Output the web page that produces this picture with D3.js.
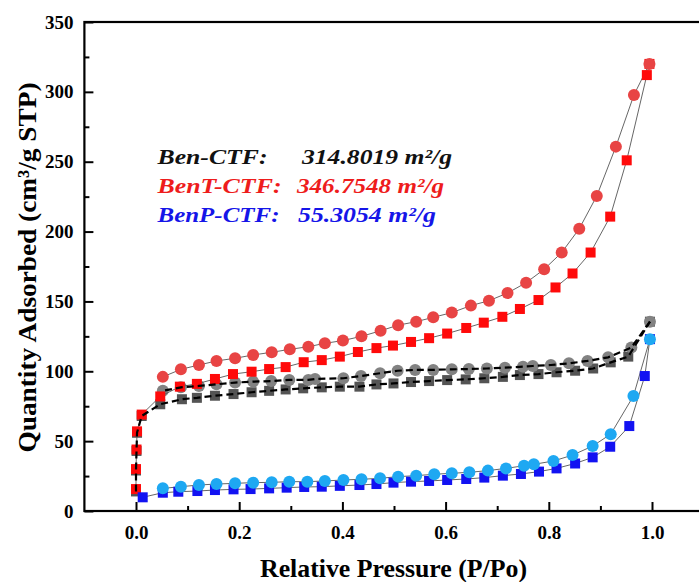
<!DOCTYPE html>
<html>
<head>
<meta charset="utf-8">
<script src="https://cdn.jsdelivr.net/npm/d3@7"></script>
<style>
body { margin: 0; background: #fff; }
svg { display: block; }
text { font-family: "Liberation Serif", "Times New Roman", serif; font-weight: bold; }
</style>
</head>
<body>
<div id="chart"></div>
<script>
// Ben-CTF (gray, dashed)
const benAdsP = [0.0,0.0,0.001,0.002,0.011,0.047,0.089,0.118,0.153,0.189,0.224,0.258,0.29,0.324,0.36,0.395,0.433,0.466,0.499,0.533,0.568,0.603,0.639,0.675,0.711,0.744,0.78,0.815,0.851,0.886,0.92,0.954,0.996]
const benAdsQ = [14,29,43,56,68,76.4,80,81,82.5,83.7,85,86,87,87.8,88.5,89,89,90.6,91.3,92.3,93,93.7,94.2,95,96,97.3,98,99.3,100.4,102,106.4,110.5,135.5]
const benDesP = [0.996,0.96,0.915,0.875,0.839,0.804,0.769,0.75,0.715,0.68,0.645,0.612,0.576,0.541,0.507,0.473,0.436,0.402,0.347,0.334,0.297,0.262,0.227,0.192,0.156,0.122,0.087,0.052]
const benDesQ = [135.5,117,110,107.4,105.7,104.5,103.8,103.3,102.6,102,101.6,101.4,101,101,100.4,98.6,96.6,95,94.5,93.8,93.8,93,92.6,91.9,90.7,89.5,88.5,86]

// BenT-CTF (red)
const benTAdsP = [0.0,0.0,0.001,0.002,0.011,0.047,0.085,0.118,0.153,0.188,0.224,0.258,0.29,0.325,0.36,0.395,0.43,0.466,0.498,0.533,0.568,0.603,0.64,0.674,0.71,0.744,0.78,0.813,0.846,0.881,0.919,0.951,0.99,0.995]
const benTAdsQ = [15.7,30,44,57,69,82,89,91,94.5,98,99.7,101.6,103,106.5,108,110.5,113.8,116.6,118.4,121,123.7,127,131,134.8,139,144.6,151,160,170,185,210.7,251,312,320]
const benTDesP = [0.995,0.965,0.93,0.893,0.859,0.825,0.791,0.756,0.72,0.684,0.649,0.612,0.576,0.543,0.508,0.474,0.437,0.401,0.366,0.334,0.298,0.263,0.227,0.192,0.156,0.122,0.087,0.052]
const benTDesQ = [320,297.8,260.8,225.5,202,185,173,163.4,156,150.5,147,142,138.6,135.5,133,129,125,122,120,117.6,115.7,113.6,111.7,109.3,107.4,104.5,101.4,96]

// BenP-CTF (blue)
const benPAdsP = [0.013,0.052,0.082,0.119,0.153,0.189,0.222,0.258,0.292,0.326,0.36,0.395,0.433,0.466,0.499,0.533,0.568,0.603,0.64,0.675,0.711,0.746,0.781,0.815,0.851,0.885,0.919,0.956,0.986,0.996]
const benPAdsQ = [9.8,13.1,13.8,14.3,15,15.5,15.7,16.2,16.7,17.2,17.4,18,18.6,19.3,20.3,21,21.5,22.2,22.9,23.9,25.3,26.5,28.2,30.5,34,38.4,46,60.8,96.6,123]
const benPDesP = [0.996,0.964,0.92,0.885,0.846,0.809,0.771,0.752,0.717,0.682,0.646,0.612,0.578,0.543,0.508,0.473,0.437,0.402,0.366,0.332,0.297,0.263,0.227,0.192,0.156,0.122,0.087,0.052]
const benPDesQ = [123,82.3,55,46.5,40,35.8,33.4,32.4,30.5,28.9,27.7,27,26.3,25.3,24.6,23.4,22.7,22.2,21.5,21,21,20.5,20.3,19.8,19.3,18.6,17.4,16.2]

const xTicks = [0,0.2,0.4,0.6,0.8,1.0]
const yTicks = [0,50,100,150,200,250,300,350]

const labelNames = ["Ben-CTF:", "BenT-CTF:", "BenP-CTF:"]
const labelValues = ["314.8019 m²/g", "346.7548 m²/g", "55.3054 m²/g"]
const labelColors = ["#111", "#ee1c1c", "#1515e8"]

const width = 699
const height = 582
const margin = {top:22, left:84.4, bottom:71}
const plotW = 619.2
const plotH = height - margin.top - margin.bottom

const svg = d3.select("div#chart").append("svg").attr("width",width).attr("height",height)
const g = svg.append("g").attr("transform", `translate(${margin.left}, ${margin.top})`)

const x = d3.scaleLinear().domain([-0.1,1.1]).range([0,plotW])
const y = d3.scaleLinear().domain([0,350]).range([plotH,0])

const zip = (p,q) => p.map((d,i) => ({p:d, q:q[i]}))
const line = d3.line().x(d => x(d.p)).y(d => y(d.q))

function drawLine(data, style){
    g.append("path").datum(data)
        .attr("d", line)
        .attr("fill","none")
        .attr("stroke", style.stroke)
        .attr("stroke-width", style.width)
        .attr("stroke-dasharray", style.dash || null)
}
function drawSquares(data, color){
    g.append("g").selectAll("rect").data(data).enter().append("rect")
        .attr("x", d => x(d.p) - 5)
        .attr("y", d => y(d.q) - 5)
        .attr("width",10).attr("height",10)
        .attr("fill", color)
}
function drawCircles(data, color){
    g.append("g").selectAll("circle").data(data).enter().append("circle")
        .attr("cx", d => x(d.p))
        .attr("cy", d => y(d.q))
        .attr("r",6)
        .attr("fill", color)
}

const benAds = zip(benAdsP, benAdsQ), benDes = zip(benDesP, benDesQ)
const benTAds = zip(benTAdsP, benTAdsQ), benTDes = zip(benTDesP, benTDesQ)
const benPAds = zip(benPAdsP, benPAdsQ), benPDes = zip(benPDesP, benPDesQ)

const thin = {stroke:"#555", width:0.9}
const dashed = {stroke:"#000", width:2.2, dash:"7,4"}

// gray
drawSquares(benAds, "#545454")
drawCircles(benDes, "#828282")
// red
drawLine(benTAds, thin)
drawLine(benTDes, thin)
drawSquares(benTAds, "#ff0a0a")
drawCircles(benTDes, "#e84444")
// gray lines on top
drawLine(benAds, dashed)
drawLine(benDes, dashed)
// blue
drawLine(benPAds, thin)
drawLine(benPDes, thin)
drawSquares(benPAds, "#1212f2")
drawCircles(benPDes, "#1ea8f2")

// axes
const axisG = svg.append("g").attr("transform", `translate(${margin.left}, ${margin.top})`)
const xAxis = d3.axisBottom(x).tickValues(xTicks).tickFormat(d3.format(".1f")).tickSize(-9).tickPadding(15)
const xMinor = d3.axisBottom(x).tickValues([0.1,0.3,0.5,0.7,0.9]).tickFormat("").tickSize(-5)
const yAxis = d3.axisLeft(y).tickValues(yTicks).tickFormat(d3.format("d")).tickSize(-9).tickPadding(11)
const yMinor = d3.axisLeft(y).tickValues([25,75,125,175,225,275,325]).tickFormat("").tickSize(-5)

axisG.append("g").attr("transform", `translate(0, ${plotH})`).call(xAxis)
axisG.append("g").attr("transform", `translate(0, ${plotH})`).call(xMinor)
axisG.append("g").call(yAxis)
axisG.append("g").call(yMinor)
axisG.selectAll(".domain").remove()
axisG.selectAll(".tick line").attr("stroke","#000").attr("stroke-width",2)
axisG.selectAll(".tick text").attr("font-size",19).attr("fill","#000")
    .style("font-family",'"Liberation Serif", serif').style("font-weight","bold")

axisG.append("rect").attr("x",0).attr("y",0).attr("width",plotW).attr("height",plotH)
    .attr("fill","none").attr("stroke","#000").attr("stroke-width",2.2)

// titles
svg.append("text")
    .attr("transform", `translate(36, 267.5) rotate(-90)`)
    .attr("text-anchor","middle")
    .attr("font-size",26)
    .attr("textLength",370).attr("lengthAdjust","spacingAndGlyphs")
    .text("Quantity Adsorbed (cm³/g STP)")
svg.append("text")
    .attr("x", 393.5).attr("y", 577)
    .attr("text-anchor","middle")
    .attr("font-size",25)
    .attr("textLength",267).attr("lengthAdjust","spacingAndGlyphs")
    .text("Relative Pressure (P/Po)")

// surface area labels
const nameLen = [110, 124, 122]
const valX = [302, 297, 298]
const valLen = [150, 147, 138]
const baseY = [164, 193, 221.5]
const lab = svg.append("g")
labelNames.forEach((d,i) => {
    lab.append("text").attr("x",157.5).attr("y",baseY[i])
        .attr("fill",labelColors[i]).attr("font-size",22).attr("font-style","italic")
        .attr("textLength",nameLen[i]).attr("lengthAdjust","spacingAndGlyphs")
        .text(d)
    lab.append("text").attr("x", valX[i]).attr("y",baseY[i])
        .attr("fill",labelColors[i]).attr("font-size",22).attr("font-style","italic")
        .attr("textLength",valLen[i]).attr("lengthAdjust","spacingAndGlyphs")
        .text(labelValues[i])
})
</script>
</body>
</html>
